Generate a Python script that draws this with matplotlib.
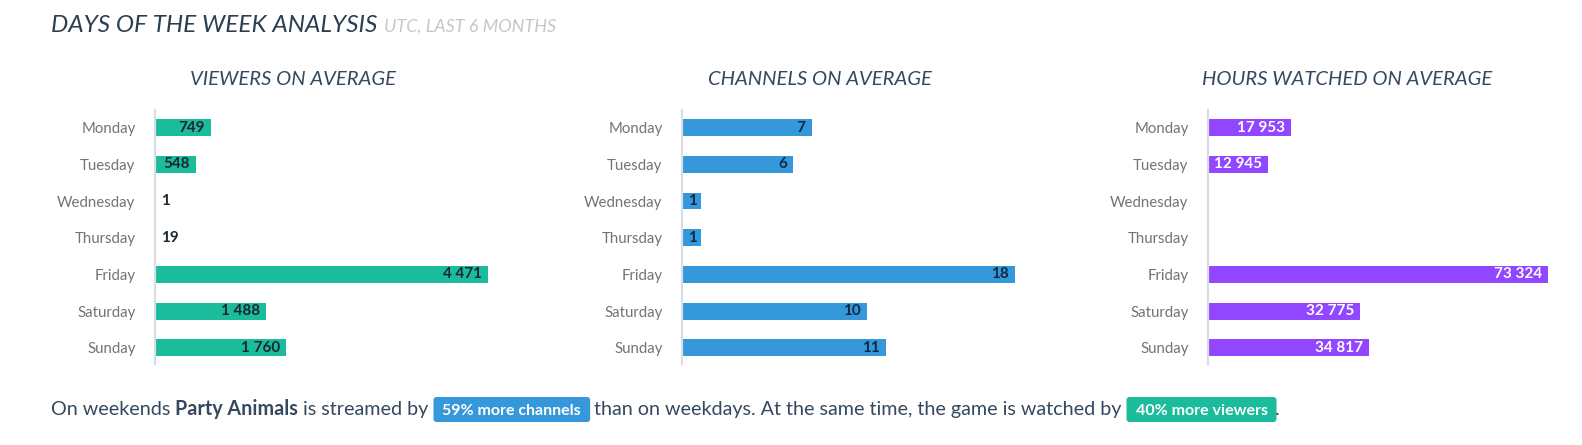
import matplotlib.pyplot as plt
from matplotlib.patches import FancyBboxPatch
from matplotlib.transforms import IdentityTransform

plt.rcParams['font.family'] = ['Lato', 'DejaVu Sans']

days = ['Monday', 'Tuesday', 'Wednesday', 'Thursday', 'Friday', 'Saturday', 'Sunday']
viewers = [749, 548, 1, 19, 4471, 1488, 1760]
channels = [7, 6, 1, 1, 18, 10, 11]
hours = [17953, 12945, 0, 0, 73324, 32775, 34817]

W, H = 1582, 445
fig = plt.figure(figsize=(W / 100, H / 100), dpi=100)
renderer = fig.canvas.get_renderer()

TITLE_C = '#2c3e50'
TICK_C = '#707478'


def fmt(v):
    return f'{v:,}'.replace(',', ' ')


# panel: data, title, bar colour, label colour, axes left/width px, title centre px
panels = [
    (viewers, 'VIEWERS ON AVERAGE', '#1abc9c', '#1b2631', 155, 333, 293),
    (channels, 'CHANNELS ON AVERAGE', '#3498db', '#102a43', 682, 333, 820),
    (hours, 'HOURS WATCHED ON AVERAGE', '#9147ff', 'white', 1208, 340, 1347),
]

ax_top, ax_bot = 110, 364
for vals, title, color, lcolor, left, width, tcx in panels:
    ax = fig.add_axes([left / W, 1 - ax_bot / H, width / W, (ax_bot - ax_top) / H])
    y = list(range(len(days)))
    ax.barh(y, vals, height=0.46, color=color)
    ax.set_xlim(0, max(vals))
    ax.set_ylim(6.44, -0.48)
    ax.set_yticks(y)
    ax.set_yticklabels(days, fontsize=10.8, color=TICK_C)
    ax.tick_params(axis='y', length=0, pad=14)
    ax.set_xticks([])
    for s in ['top', 'right', 'bottom']:
        ax.spines[s].set_visible(False)
    ax.spines['left'].set_color('#dadde6')
    ax.spines['left'].set_linewidth(1.6)
    ax.patch.set_alpha(0)

    x0 = ax.transData.transform((0, 0))[0]
    for i, v in enumerate(vals):
        if v == 0:
            continue
        t = ax.annotate(fmt(v), xy=(0, i), xytext=(0, 0), textcoords='offset pixels',
                        ha='left', va='center', fontsize=11, fontweight='bold', color=lcolor)
        w = t.get_window_extent(renderer).width
        bar_px = ax.transData.transform((v, 0))[0] - x0
        off = bar_px - 6 - w
        if off < 6:
            off = 6
        t.set_position((off, 0))

    fig.text(tcx / W, 1 - 85 / H, title, ha='center', va='baseline', fontsize=14.6,
             style='italic', fontweight='normal', color='#34495e')

# main title
t1 = fig.text(51 / W, 1 - 31.7 / H, 'DAYS OF THE WEEK ANALYSIS', ha='left', va='baseline',
              fontsize=17.6, style='italic', fontweight='normal', color=TITLE_C)
ext = t1.get_window_extent(renderer)
fig.text((ext.x1 + 7) / W, 1 - 31.7 / H, 'UTC, LAST 6 MONTHS', ha='left', va='baseline',
         fontsize=13, style='italic', fontweight='normal', color='#c3c7cc')

# bottom sentence
pieces = [
    ('On weekends', 'normal', None),
    ('Party Animals', 'bold', None),
    ('is streamed by', 'normal', None),
    ('59% more channels', 'bold', '#3498db'),
    ('than on weekdays. At the same time, the game is watched by', 'normal', None),
    ('40% more viewers', 'bold', '#1abc9c'),
    ('.', 'normal', None),
]
base = 30
x = 51
prev_box = False
for i, (txt, weight, box) in enumerate(pieces):
    if i > 0:
        if box is not None:
            x += 14
        elif prev_box:
            x += 13 if txt != '.' else 7
        else:
            x += 5
    if box is None:
        t = fig.text(x / W, base / H, txt, ha='left', va='baseline', fontsize=14.2,
                     fontweight=weight, color='#34495e')
    else:
        t = fig.text(x / W, base / H, txt, ha='left', va='baseline', fontsize=11.5,
                     fontweight=weight, color='white', zorder=3)
    e = t.get_window_extent(renderer)
    if box is not None:
        patch = FancyBboxPatch((e.x0 - 9, 23), e.width + 18, 25,
                               boxstyle='round,pad=0,rounding_size=3',
                               fc=box, ec='none', transform=IdentityTransform(), zorder=2)
        fig.add_artist(patch)
    x = e.x1
    prev_box = box is not None

fig.savefig('out.png', dpi=100)
